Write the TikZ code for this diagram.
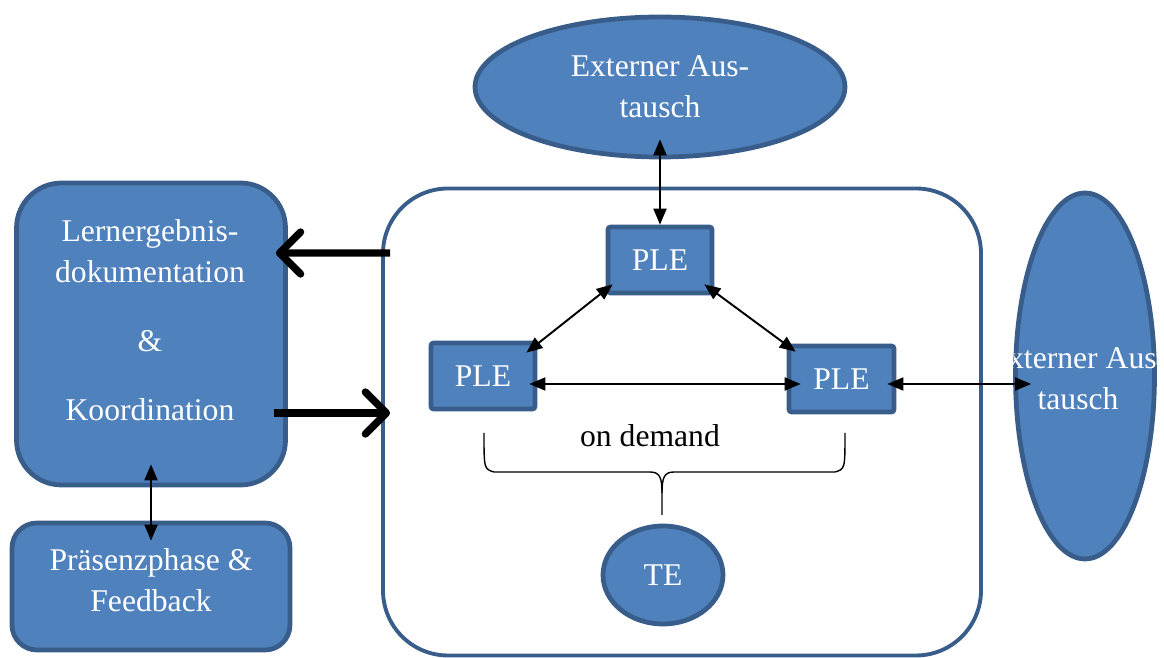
\documentclass[tikz,border=0pt]{standalone}
\usepackage{fontspec}
\setmainfont{Liberation Serif}
\usetikzlibrary{arrows.meta,shapes.geometric}
\definecolor{boxblue}{HTML}{4F81BD}
\definecolor{boxline}{HTML}{385D8A}

\begin{document}
\begin{tikzpicture}[
    lbl/.style={text=white, font=\fontsize{18}{23.3}\selectfont, align=center},
    box/.style={lbl, draw=boxline, fill=boxblue, line width=2.7pt},
    oval/.style={box, ellipse},
    plebox/.style={box, rounded corners=1.5pt, minimum width=2.08cm, minimum height=1.32cm},
    both/.style={{Triangle[length=0.32cm,width=0.26cm]}-{Triangle[length=0.32cm,width=0.26cm]}, line width=1.1pt},
    fat/.style={-{Straight Barb[length=0.42cm,width=0.84cm,round]}, line width=4.2pt},
    bracket/.style={line width=0.8pt, line join=round},
  ]
  \useasboundingbox (0,0) rectangle (23.28,13.16);

  % learning space
  \node[box, fill=white, line width=2.2pt, rounded corners=1.3cm, minimum width=11.96cm, minimum height=9.34cm] (space) at (13.64,4.72) {};

  \node[oval, minimum width=7.4cm, minimum height=2.8cm] (ext) at (13.2,11.42) {Externer Aus-\\tausch};

  \node[plebox] (pletop) at (13.2,7.96) {PLE};
  \node[plebox] (pleleft) at (9.66,5.64) {PLE};
  \node[plebox, minimum width=2.1cm] (pleright) at (16.83,5.58) {PLE};

  \node[oval, minimum width=2.4cm, minimum height=1.96cm] (te) at (13.26,1.66) {TE};

  % left column
  \node[box, rounded corners=0.9cm, minimum width=5.38cm, minimum height=6.04cm] (doku) at (3.02,6.48) {};
  \node[lbl] at (3.0,6.76) {Lernergebnis-\\dokumentation\\[0.56cm]\&\\[0.56cm]Koordination};
  \node[box, rounded corners=0.5cm, minimum width=5.56cm, minimum height=2.54cm] (praes) at (3.02,1.43) {};
  \node[lbl] at (3.02,1.55) {Pr\"asenzphase \&\\Feedback};

  % right ellipse, text cut at its border
  \node[oval, minimum width=2.78cm, minimum height=7.32cm] (extr) at (21.7,5.64) {};
  \begin{scope}
    \clip (extr.center) ellipse [x radius=1.44cm, y radius=3.7cm];
    \node[lbl] at (21.56,5.58) {Externer Aus-\\tausch};
  \end{scope}

  % arrows
  \draw[both] ([yshift=0.4cm]ext.south) -- (pletop.north);
  \draw[both] ([shift={(0.14,0.22)}]pletop.south west) -- ([shift={(-0.22,-0.24)}]pleleft.north east);
  \draw[both] ([shift={(-0.2,0.22)}]pletop.south east) -- ([shift={(0.18,-0.16)}]pleright.north west);
  \draw[both] ([shift={(-0.16,-0.16)}]pleleft.east) -- ([shift={(0.28,-0.1)}]pleright.west);
  \draw[both] ([shift={(-0.18,-0.1)}]pleright.east) -- ([shift={(0.36,-0.16)}]extr.west);
  \draw[both] ([yshift=0.46cm]doku.south) -- ([yshift=-0.4cm]praes.north);

  \draw[fat] ([shift={(0.18,3.38)}]space.west) -- ([shift={(-0.24,1.62)}]doku.east);
  \draw[fat] ([shift={(-0.28,-1.58)}]doku.east) -- ([shift={(0.18,0.18)}]space.west);

  % on demand bracket
  \node[font=\fontsize{18}{23.3}\selectfont] (demand) at (13.0,4.44) {on demand};
  \draw[bracket] (9.68,4.5) .. controls (9.68,3.78) .. (9.88,3.72) -- (13.0,3.72)
    .. controls (13.2,3.72) and (13.24,3.6) .. (13.24,3.3) -- (13.24,2.86);
  \draw[bracket] (16.9,4.5) .. controls (16.9,3.78) .. (16.7,3.72) -- (13.48,3.72)
    .. controls (13.28,3.72) and (13.24,3.6) .. (13.24,3.3);
\end{tikzpicture}
\end{document}
